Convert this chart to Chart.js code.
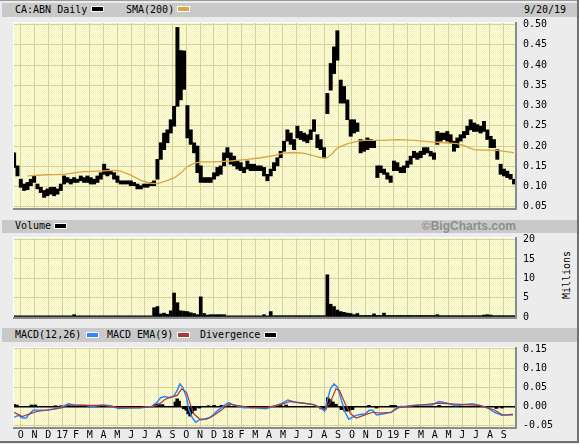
<!DOCTYPE html>
<html lang="en">
  <head>
    <meta charset="utf-8" />
    <style>
      * { margin: 0; padding: 0; }
      body { background: #ececec; width: 579px; height: 444px; overflow: hidden; position: relative; }
      .band { position: absolute; left: 2px; width: 575px; background: #c9c9c9; }
      .lbl { position: absolute; font: 10px "DejaVu Sans Mono", monospace; line-height: 14px; color: #000; white-space: nowrap; }
      .sw { position: absolute; width: 11px; height: 4px; border: 1px solid #fff; }
      .box { position: absolute; left: 0; width: 579px; }
      .edge { position: absolute; background: #707070; }
    </style>
  </head>
  <body>
    <div class="edge" style="left:0;top:0;width:579px;height:1px;background:#9a9a9a"></div>
    <div class="edge" style="left:577px;top:0;width:2px;height:443px"></div>
    <div class="edge" style="left:0;top:441px;width:579px;height:2px"></div>

    <div class="band" style="top:3px;height:14px"></div>
    <span class="lbl" style="left:15px;top:3px">CA:ABN Daily</span>
    <span class="sw" style="left:91px;top:6px;background:#000"></span>
    <span class="lbl" style="left:126px;top:3px">SMA(200)</span>
    <span class="sw" style="left:177px;top:6px;background:#d9a441"></span>
    <span class="lbl" style="left:524px;top:3px">9/20/19</span>

    <div class="band" style="top:220px;height:13px"></div>
    <span class="lbl" style="left:15px;top:219px">Volume</span>
    <span class="sw" style="left:54px;top:223px;background:#000"></span>
    <span class="lbl" style="right:63px;top:219px;font:bold 12px 'Liberation Sans', Arial, sans-serif;line-height:14px;color:#8e8e8e">©BigCharts.com</span>
    <span class="lbl" style="left:537px;top:268px;width:60px;text-align:center;transform:rotate(-90deg)">Millions</span>

    <div class="band" style="top:328px;height:14px"></div>
    <span class="lbl" style="left:15px;top:328px">MACD(12,26)</span>
    <span class="sw" style="left:86px;top:332px;background:#2f86ff"></span>
    <span class="lbl" style="left:107px;top:328px">MACD EMA(9)</span>
    <span class="sw" style="left:177px;top:332px;background:#a53a3a"></span>
    <span class="lbl" style="left:200px;top:328px">Divergence</span>
    <span class="sw" style="left:264px;top:332px;background:#000"></span>

    <div class="box" style="top:17px;height:199px"><canvas id="priceChart"></canvas></div>
    <div class="box" style="top:234px;height:90px"><canvas id="volumeChart"></canvas></div>
    <div class="box" style="top:343px;height:98px"><canvas id="macdChart"></canvas></div>

    <script src="https://cdn.jsdelivr.net/npm/chart.js/dist/chart.umd.min.js"></script>
    <script>
      // x axis is in months: 0 = Oct 2016 ... 35 = Sep 2019
      const monthLabels = ["O","N","D","17","F","M","A","M","J","J","A","S",
                           "O","N","D","18","F","M","A","M","J","J","A","S",
                           "O","N","D","19","F","M","A","M","J","J","A","S"];
      const xMin = -0.49, xMax = 35.82;

      // weekly price ranges, one per week from 9/19/16 to 9/20/19
      const weekStart = -0.48, weekStep = 0.2415;
      const priceLow = [
        0.147,0.126,0.098,0.090,0.092,0.102,0.110,0.094,0.085,0.073,
        0.077,0.081,0.077,0.081,0.090,0.106,0.110,0.106,0.110,0.110,
        0.114,0.110,0.110,0.106,0.106,0.110,0.118,0.130,0.126,0.130,
        0.118,0.110,0.106,0.106,0.106,0.102,0.102,0.094,0.094,0.098,
        0.098,0.102,0.102,0.118,0.167,0.191,0.208,0.232,0.249,0.298,
        0.314,0.340,0.220,0.204,0.183,0.134,0.110,0.110,0.110,0.110,
        0.118,0.126,0.130,0.151,0.171,0.155,0.151,0.143,0.139,0.134,
        0.143,0.139,0.139,0.139,0.139,
        0.126,0.114,0.126,0.139,0.151,0.171,0.187,0.212,0.204,0.191,
        0.220,0.216,0.212,0.208,0.216,0.236,0.196,0.191,0.171,0.280,
        0.338,0.379,0.412,0.306,0.306,0.265,0.224,0.232,0.236,0.183,
        0.187,0.191,0.196,0.196,0.122,0.134,0.130,0.118,0.110,0.139,
        0.139,0.134,0.134,0.147,0.155,0.171,0.167,0.171,0.179,0.183,
        0.175,0.167,0.204,0.212,0.216,0.212,0.208,0.187,0.196,0.212,
        0.220,0.228,0.240,0.236,0.236,0.232,0.236,0.216,0.196,0.196,
        0.167,0.130,0.126,0.122,0.118,0.106
      ];
      const priceHigh = [
        0.183,0.151,0.118,0.106,0.110,0.118,0.126,0.106,0.098,0.090,
        0.094,0.098,0.098,0.094,0.106,0.126,0.122,0.118,0.122,0.118,
        0.126,0.122,0.126,0.122,0.118,0.126,0.134,0.155,0.143,0.138,
        0.134,0.126,0.114,0.114,0.114,0.114,0.110,0.106,0.102,0.106,
        0.106,0.110,0.114,0.167,0.208,0.232,0.240,0.265,0.298,0.493,
        0.436,0.435,0.300,0.240,0.208,0.200,0.151,0.122,0.122,0.122,
        0.134,0.147,0.151,0.183,0.196,0.183,0.175,0.163,0.159,0.147,
        0.163,0.155,0.155,0.151,0.151,
        0.147,0.130,0.143,0.159,0.171,0.187,0.212,0.240,0.232,0.216,
        0.249,0.236,0.232,0.228,0.240,0.265,0.228,0.216,0.196,0.330,
        0.404,0.445,0.485,0.363,0.347,0.314,0.265,0.265,0.257,0.216,
        0.212,0.220,0.216,0.212,0.151,0.151,0.143,0.134,0.126,0.163,
        0.159,0.147,0.151,0.163,0.175,0.187,0.183,0.187,0.196,0.196,
        0.187,0.183,0.236,0.232,0.232,0.236,0.228,0.212,0.220,0.228,
        0.236,0.249,0.265,0.257,0.253,0.249,0.261,0.240,0.224,0.216,
        0.191,0.155,0.143,0.138,0.130,0.118
      ];
      // volume in millions, same weeks
      const volume = [
        0.3,0.3,0.3,0.3,0.3,0.3,0.3,0.3,0.3,0.3,0.3,0.3,0.3,0.3,0.3,0.3,0.3,0.3,0.6,0.3,
        0.3,0.3,0.3,0.3,0.3,0.3,0.3,0.3,0.3,0.3,0.3,0.3,0.3,0.3,0.3,0.3,0.3,0.3,0.3,0.3,
        0.3,0.3,2.4,2.7,0.8,1.0,0.7,1.6,6.2,3.7,1.6,1.5,1.4,1.1,0.9,0.6,5.2,0.9,0.5,0.6,
        0.6,0.6,0.6,0.6,0.3,0.3,0.3,0.3,0.3,0.3,0.3,0.3,0.3,0.3,0.3,0.6,0.3,1.4,0.35,0.35,
        0.35,0.35,0.35,0.35,0.35,0.35,0.35,0.35,0.35,0.35,0.35,0.35,0.35,0.35,10.9,3.3,2.7,1.8,1.4,1.2,
        1.0,0.9,0.6,0.9,0.4,0.4,0.4,0.4,0.8,0.4,0.4,1.0,0.4,0.4,0.4,0.4,0.4,0.4,0.4,0.4,
        0.4,0.4,0.4,0.4,0.4,0.4,0.4,0.6,0.35,0.35,0.35,0.35,0.35,0.35,0.35,0.35,0.35,0.35,
        0.35,0.35,0.35,0.5,0.6,0.5,0.35,0.35,0.35,0.35,0.35,0.35,0.35
      ];

      const smaX = [0.49,1.94,3.14,4.35,5.56,6.77,7.25,7.97,8.70,9.42,9.90,10.39,11.11,11.60,12.08,12.56,13.04,14.01,15.22,16.43,17.39,
                    18.42,19.14,19.86,20.58,21.31,21.79,22.15,22.51,22.99,23.71,24.43,24.91,26.11,27.32,28.52,29.72,30.68,31.64,32.12,32.84,33.57,34.53,35.49,35.73];
      const smaY = [0.126,0.129,0.130,0.136,0.138,0.140,0.138,0.128,0.115,0.108,0.107,0.112,0.121,0.133,0.149,0.157,0.161,0.161,0.163,0.167,0.171,
                    0.177,0.183,0.184,0.182,0.175,0.171,0.170,0.179,0.196,0.206,0.212,0.214,0.214,0.216,0.214,0.210,0.208,0.206,0.201,0.191,0.190,0.189,0.185,0.183];

      const macdX = [-0.48,-0.16,0.11,0.38,0.64,0.91,1.98,2.52,3.05,3.45,3.85,4.66,5.19,5.99,6.53,7.06,7.86,8.67,9.47,9.87,10.14,10.40,10.80,11.07,11.34,11.53,11.74,
                     12.01,12.20,12.41,12.68,12.94,13.21,13.75,14.28,14.82,15.08,15.35,16.15,16.96,17.76,18.29,18.83,19.36,19.90,20.43,21.23,21.77,22.03,22.22,22.44,22.70,22.97,
                     23.24,23.51,23.77,24.04,24.31,24.58,24.98,25.24,25.51,25.78,26.31,26.85,27.25,27.52,27.92,28.72,29.79,30.32,30.86,31.53,32.20,32.73,33.26,33.80,34.33,34.87,35.27,35.67];
      const macdY = [-0.028,-0.023,-0.030,-0.030,-0.019,-0.010,-0.009,-0.006,0.000,0.007,0.004,0.003,0.000,0.004,0.002,-0.005,-0.004,-0.003,0.000,0.011,0.023,0.026,0.023,0.026,0.042,0.059,0.050,
                     0.024,-0.010,-0.028,-0.041,-0.035,-0.034,-0.028,-0.010,0.005,0.010,0.005,-0.003,-0.003,-0.006,0.000,0.007,0.017,0.011,0.009,0.005,-0.005,-0.012,0.016,0.046,0.059,0.050,
                     0.016,-0.015,-0.033,-0.028,-0.023,-0.021,-0.019,-0.010,-0.010,-0.022,-0.019,-0.015,-0.003,0.000,0.001,0.004,0.004,0.013,0.009,0.002,0.005,0.007,0.003,-0.003,-0.015,-0.023,-0.022,-0.020];

      const emaX = [-0.48,0.11,0.64,1.18,1.98,3.05,3.45,4.66,5.99,7.06,8.67,9.47,10.00,10.40,10.80,11.34,11.66,12.01,12.28,12.54,12.94,13.48,14.01,14.55,15.08,15.62,16.69,17.76,
                    18.83,19.50,20.16,21.23,22.03,22.44,22.84,23.10,23.51,23.91,24.31,24.84,25.51,26.05,26.85,27.38,27.92,30.32,31.13,32.20,33.26,34.33,34.87,35.67];
      const emaY = [-0.015,-0.026,-0.019,-0.013,-0.009,-0.003,0.004,0.003,0.003,-0.003,-0.003,-0.001,0.005,0.017,0.024,0.029,0.046,0.037,0.007,-0.019,-0.032,-0.033,-0.023,-0.009,0.007,0.003,-0.003,-0.003,
                    0.005,0.013,0.010,0.005,-0.007,0.011,0.046,0.042,0.007,-0.019,-0.030,-0.023,-0.015,-0.017,-0.015,-0.003,0.000,0.009,0.007,0.005,0.003,-0.009,-0.021,-0.022];

      const divX = [-0.48,-0.29,0.78,1.05,2.52,2.92,3.45,9.74,10.00,10.27,11.21,11.34,11.47,11.82,12.01,12.14,12.28,12.41,12.62,12.94,13.61,14.01,14.55,15.08,16.15,17.22,
                    18.83,19.23,21.77,22.03,22.25,22.44,22.62,22.84,23.24,23.51,23.77,24.04,25.24,25.78,26.85,27.12,30.32,34.47,34.87];
      const divY = [0.005,0.004,0.004,0.004,0.002,0.002,0.003,0.006,0.007,0.005,0.012,0.020,0.014,-0.006,-0.010,-0.019,-0.025,-0.017,-0.010,-0.004,0.002,0.003,0.003,0.002,-0.002,-0.002,
                    0.003,0.004,-0.006,-0.008,0.023,0.018,0.012,0.006,-0.008,-0.012,-0.012,-0.008,0.003,-0.004,0.003,0.003,0.003,-0.005,-0.004];

      const priceTicks = [0.05,0.10,0.15,0.20,0.25,0.30,0.35,0.40,0.45,0.50];
      const volumeTicks = [0,5,10,15,20];
      const macdTicks = [-0.05,0,0.05,0.10,0.15];

      const weekX = priceLow.map((_, i) => weekStart + i * weekStep);
      const font = { family: "'DejaVu Sans Mono', monospace", size: 10 };
      const gridColor = "#d5d29b";

      // dithered yellow plot background
      const dither = document.createElement("canvas");
      dither.width = 2; dither.height = 2;
      const dg = dither.getContext("2d");
      dg.fillStyle = "#ffffd2"; dg.fillRect(0, 0, 2, 2);
      dg.fillStyle = "#f1f1c9"; dg.fillRect(0, 0, 1, 1); dg.fillRect(1, 1, 1, 1);

      const panelFrame = {
        id: "panelFrame",
        beforeDraw(chart) {
          const { ctx, chartArea: a } = chart;
          ctx.save();
          ctx.fillStyle = ctx.createPattern(dither, "repeat");
          ctx.fillRect(a.left, a.top, a.right - a.left, a.bottom - a.top);
          ctx.restore();
        },
        afterDraw(chart) {
          const { ctx, chartArea: a } = chart;
          ctx.save();
          ctx.fillStyle = "#ffffff";
          ctx.fillRect(a.left - 1, a.top - 1, a.right - a.left + 1, 1);
          ctx.fillRect(a.left - 1, a.top - 1, 1, a.bottom - a.top + 1);
          ctx.fillStyle = "#8a8a8a";
          ctx.fillRect(a.left - 1, a.bottom, a.right - a.left + 3, 2);
          ctx.fillRect(a.right, a.top - 1, 2, a.bottom - a.top + 3);
          ctx.restore();
        },
      };

      function monthAxis(showLabels) {
        return {
          type: "linear", min: xMin, max: xMax, offset: false, bounds: "data",
          grid: { color: gridColor, drawTicks: false, offset: false },
          border: { display: false },
          afterBuildTicks: (s) => { s.ticks = monthLabels.map((_, i) => ({ value: i })); },
          ticks: { display: showLabels, autoSkip: false, maxRotation: 0, padding: 2, color: "#000", font,
                   callback: (v, i) => monthLabels[i] },
          afterFit: (s) => { s.height = showLabels ? 14 : 0; s.paddingLeft = 0; s.paddingRight = 0; },
        };
      }

      function valueAxis(min, max, ticks, fmt) {
        return {
          position: "right", min, max, bounds: "data",
          grid: {
            drawTicks: false,
            color: (c) => (c.tick && c.tick.value === 0 && min < 0 ? "#000" : gridColor),
            lineWidth: (c) => (c.tick && c.tick.value === 0 && min < 0 ? 1.5 : 1),
          },
          border: { display: false },
          afterBuildTicks: (s) => { s.ticks = ticks.map((v) => ({ value: v })); },
          ticks: { padding: 8, color: "#000", font, crossAlign: "near", callback: (v) => fmt(v) },
          afterFit: (s) => { s.width = 64; s.paddingTop = 0; s.paddingBottom = 0; },
        };
      }

      const common = {
        animation: false,
        responsive: true,
        maintainAspectRatio: false,
        plugins: { legend: { display: false }, tooltip: { enabled: false } },
      };

      new Chart(document.getElementById("priceChart"), {
        type: "bar",
        data: {
          datasets: [
            {
              type: "line",
              data: smaX.map((x, i) => ({ x, y: smaY[i] })),
              borderColor: "#d9a441", borderWidth: 1.3, pointRadius: 0, order: 0,
            },
            {
              data: weekX.map((x, i) => ({ x, y: [priceLow[i], priceHigh[i]] })),
              backgroundColor: "#000", barThickness: 3.3, order: 1,
            },
          ],
        },
        options: {
          ...common,
          layout: { padding: { left: 14, top: 6, bottom: 8, right: 0 } },
          scales: { x: monthAxis(false), y: valueAxis(0.0468, 0.504, priceTicks, (v) => v.toFixed(2)) },
        },
        plugins: [panelFrame],
      });

      new Chart(document.getElementById("volumeChart"), {
        type: "bar",
        data: {
          datasets: [
            { data: weekX.map((x, i) => ({ x, y: volume[i] })), backgroundColor: "#000", barThickness: 3 },
          ],
        },
        options: {
          ...common,
          layout: { padding: { left: 14, top: 4, bottom: 7, right: 0 } },
          scales: { x: monthAxis(false), y: valueAxis(0, 20.4, volumeTicks, (v) => String(v)) },
        },
        plugins: [panelFrame],
      });

      new Chart(document.getElementById("macdChart"), {
        type: "bar",
        data: {
          datasets: [
            {
              type: "line",
              data: macdX.map((x, i) => ({ x, y: macdY[i] })),
              borderColor: "#2f86ff", borderWidth: 1.5, pointRadius: 0, order: 1,
            },
            {
              type: "line",
              data: emaX.map((x, i) => ({ x, y: emaY[i] })),
              borderColor: "#a53a3a", borderWidth: 1.2, pointRadius: 0, order: 0,
            },
            {
              data: divX.map((x, i) => ({ x, y: divY[i] })),
              backgroundColor: "#000", barThickness: 3, order: 2,
            },
          ],
        },
        options: {
          ...common,
          layout: { padding: { left: 14, top: 5, bottom: 0, right: 0 } },
          scales: { x: monthAxis(true), y: valueAxis(-0.0534, 0.1526, macdTicks, (v) => v.toFixed(2)) },
        },
        plugins: [panelFrame],
      });
    </script>
  </body>
</html>
